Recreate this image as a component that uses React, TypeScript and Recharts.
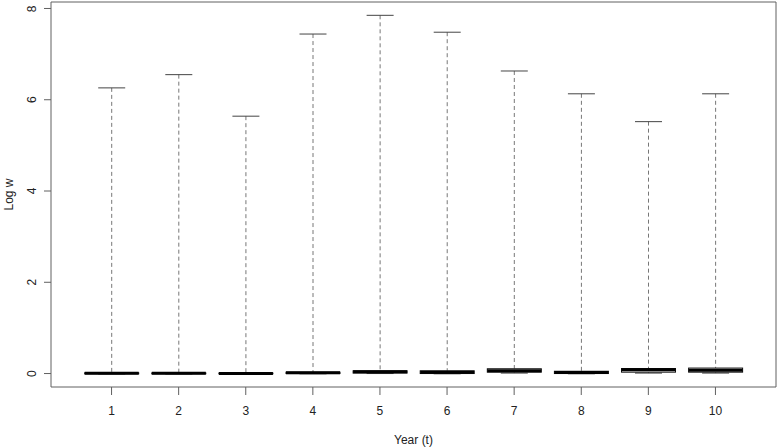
import { ComposedChart, Bar, XAxis, YAxis } from "recharts";

const YEARS = ["1", "2", "3", "4", "5", "6", "7", "8", "9", "10"];
const W_MIN = [-0.01, -0.01, -0.01, -0.005, 0.0, -0.005, 0.01, -0.005, 0.01, 0.01];
const Q1 = [-0.005, -0.005, -0.005, 0.0, 0.01, 0.0, 0.03, 0.0, 0.03, 0.03];
const MEDIAN = [0.005, 0.005, 0.003, 0.015, 0.04, 0.03, 0.06, 0.025, 0.083, 0.07];
const Q3 = [0.015, 0.012, 0.01, 0.03, 0.06, 0.06, 0.105, 0.05, 0.11, 0.12];
const W_MAX = [6.26, 6.55, 5.64, 7.44, 7.85, 7.48, 6.63, 6.13, 5.52, 6.13];
const Y_TICKS = [0, 2, 4, 6, 8];

const data = YEARS.map((year, i) => ({
  year,
  lo: W_MIN[i],
  q1: Q1[i],
  med: MEDIAN[i],
  q3: Q3[i],
  hi: W_MAX[i],
}));

const FONT = "'Liberation Sans', Arial, sans-serif";
const INK = "#222";
const FRAME = "#606060";

function BoxShape(props: any) {
  const { x, y, width, height, payload } = props;
  const top = Math.min(y, y + height);
  const bot = Math.max(y, y + height);
  const { lo, q1, med, q3, hi } = payload;
  // map a value to a pixel using the bar's own [lo, hi] extent
  const py = (v: number) => (hi === lo ? top : top + ((bot - top) * (hi - v)) / (hi - lo));
  const cx = x + width / 2;
  const capL = x + width / 4;
  const capR = x + (width * 3) / 4;
  return (
    <g>
      <line x1={cx} x2={cx} y1={py(hi)} y2={py(q3)} stroke="#777" strokeDasharray="4 3" />
      <line x1={cx} x2={cx} y1={py(q1)} y2={py(lo)} stroke="#777" strokeDasharray="4 3" />
      <line x1={capL} x2={capR} y1={py(hi)} y2={py(hi)} stroke="#444" />
      <line x1={capL} x2={capR} y1={py(lo)} y2={py(lo)} stroke="#444" />
      <rect
        x={x}
        y={py(q3)}
        width={width}
        height={Math.max(py(q1) - py(q3), 0.5)}
        fill="#fff"
        stroke="#111"
      />
      <line x1={x} x2={x + width} y1={py(med)} y2={py(med)} stroke="#000" strokeWidth={3} />
    </g>
  );
}

function YTick(props: any) {
  const { x, y, payload } = props;
  return (
    <text
      x={x}
      y={y}
      transform={`rotate(-90 ${x} ${y})`}
      textAnchor="middle"
      fontFamily={FONT}
      fontSize={12}
      fill={INK}
    >
      {payload.value}
    </text>
  );
}

export default function App() {
  return (
    <div>
      <style>{`body{margin:0;background:#fff}`}</style>
      <ComposedChart
        width={777}
        height={447}
        data={data}
        margin={{ top: 1, right: 0, bottom: 0, left: 0 }}
        barCategoryGap="10%"
      >
        <XAxis
          dataKey="year"
          padding={{ left: 27, right: 27 }}
          height={60}
          tickSize={8}
          tickMargin={11}
          axisLine={{ stroke: FRAME }}
          tickLine={{ stroke: FRAME }}
          tick={{ fontFamily: FONT, fontSize: 12, fill: INK }}
          label={{
            content: (p: any) => {
              const vb = p.viewBox;
              return (
                <text
                  x={vb.x + vb.width / 2}
                  y={vb.y + 57}
                  textAnchor="middle"
                  fontFamily={FONT}
                  fontSize={12}
                  fill={INK}
                >
                  Year (t)
                </text>
              );
            },
          }}
        />
        <XAxis
          xAxisId="top"
          orientation="top"
          dataKey="year"
          height={1}
          tick={false}
          tickLine={false}
          axisLine={{ stroke: FRAME }}
        />
        <YAxis
          type="number"
          domain={[-0.295, 8.142]}
          allowDataOverflow
          ticks={Y_TICKS}
          width={51}
          tickSize={7}
          tickMargin={8}
          axisLine={{ stroke: FRAME }}
          tickLine={{ stroke: FRAME }}
          tick={<YTick />}
          label={{
            content: (p: any) => {
              const vb = p.viewBox;
              const lx = vb.x + 13;
              const ly = vb.y + vb.height / 2;
              return (
                <text
                  x={lx}
                  y={ly}
                  transform={`rotate(-90 ${lx} ${ly})`}
                  textAnchor="middle"
                  fontFamily={FONT}
                  fontSize={12}
                  fill={INK}
                >
                  Log w
                </text>
              );
            },
          }}
        />
        <YAxis
          yAxisId="right"
          orientation="right"
          width={1}
          tick={false}
          tickLine={false}
          axisLine={{ stroke: FRAME }}
        />
        <Bar
          dataKey={(d: any) => [d.lo, d.hi]}
          shape={<BoxShape />}
          isAnimationActive={false}
        />
      </ComposedChart>
    </div>
  );
}
